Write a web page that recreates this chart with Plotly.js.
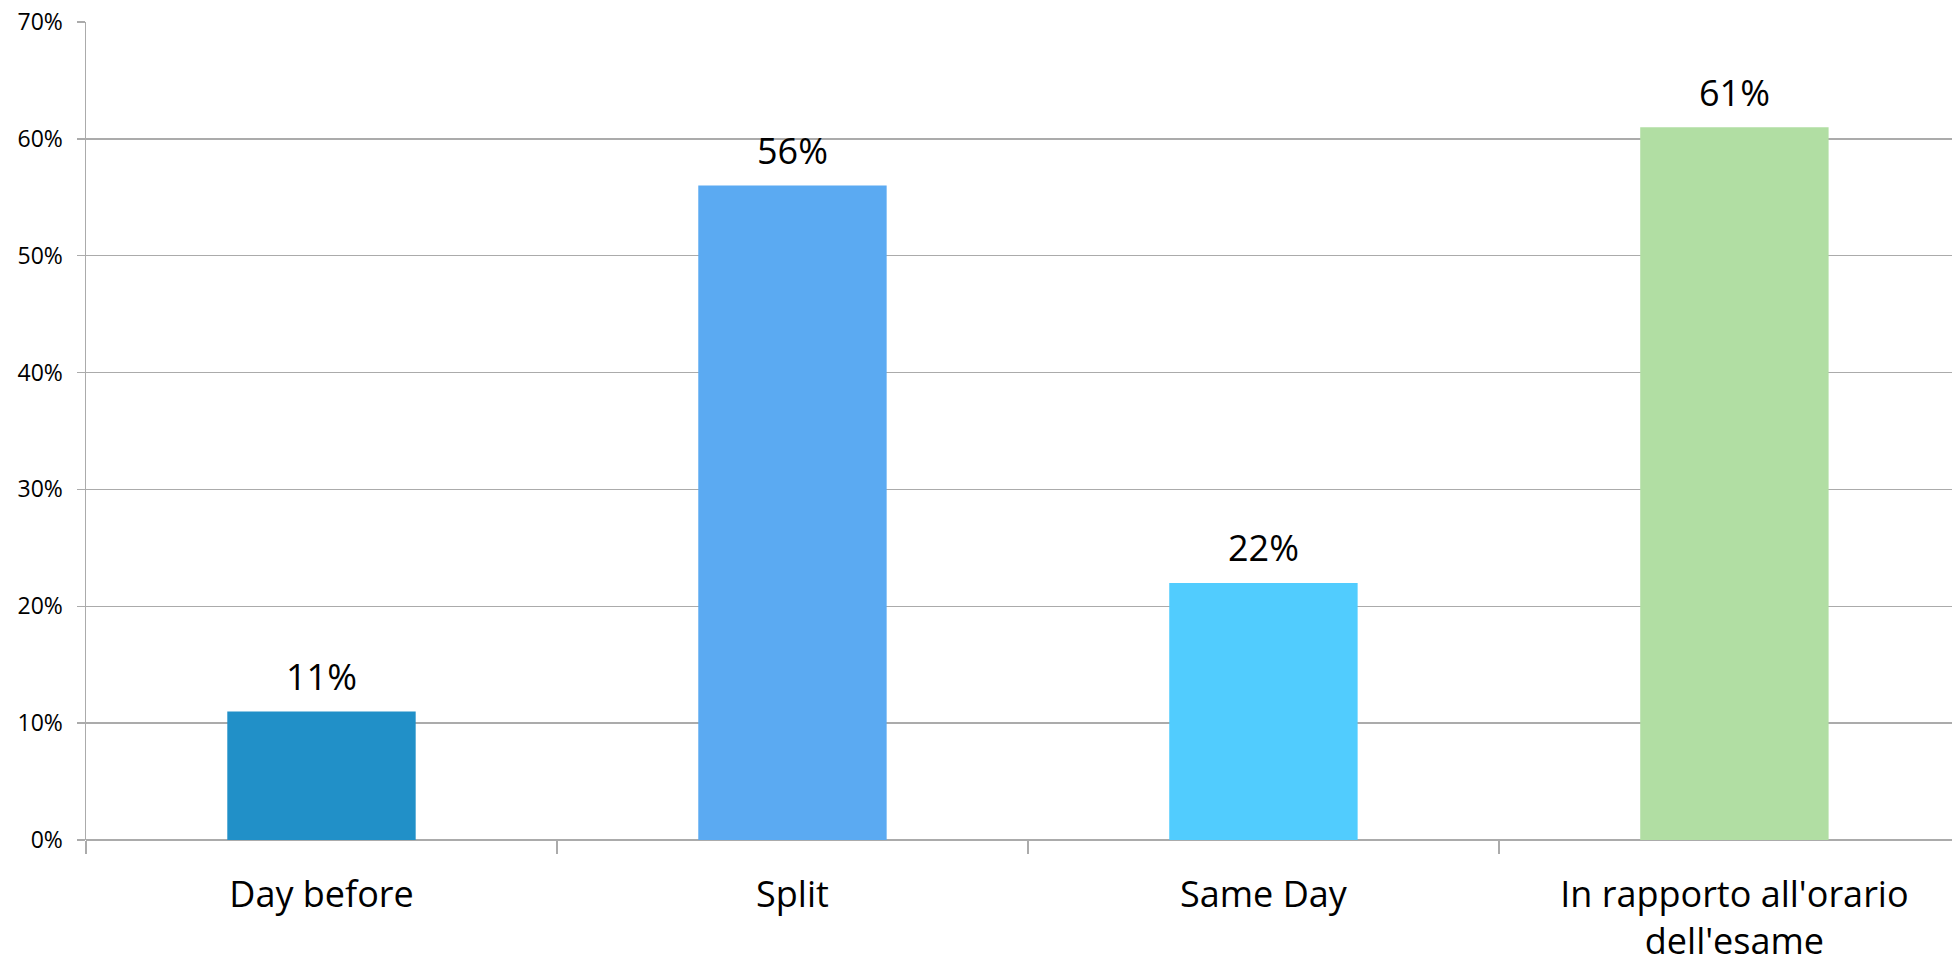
<!DOCTYPE html>
<html>
<head>
<meta charset="utf-8">
<script src="https://cdn.plot.ly/plotly-3.0.1.min.js"></script>
<style>
  html, body { margin: 0; padding: 0; background: #ffffff; overflow: hidden; }
  #chart { width: 1952px; height: 965px; }
</style>
</head>
<body>
<div id="chart"></div>
<script>
// Share of responses per exam-timing option
const categories = ["Day before", "Split", "Same Day", "In rapporto all'orario<br>dell'esame"];
const shares = [0.11, 0.56, 0.22, 0.61];
const barColors = ["#2190C8", "#5BAAF2", "#51CCFE", "#B1DEA3"];
const yTickValues = [0, 0.1, 0.2, 0.3, 0.4, 0.5, 0.6, 0.7];
const yTickLabels = ["0%", "10%", "20%", "30%", "40%", "50%", "60%", "70%"];

const labelFont = "'Open Sans', 'Noto Sans', sans-serif";
const axisGray = "#ABABAB";

const trace = {
  type: "bar",
  x: categories,
  y: shares,
  marker: { color: barColors, line: { width: 0 } },
  hoverinfo: "skip"
};

// Value labels above each bar, taken from the same values
const valueLabels = categories.map((c, i) => ({
  x: c,
  y: shares[i],
  xref: "x",
  yref: "y",
  text: Math.round(shares[i] * 100) + "%",
  showarrow: false,
  yanchor: "middle",
  yshift: 35,
  font: { family: labelFont, size: 36, color: "#000000" }
}));

const layout = {
  width: 1952,
  height: 965,
  margin: { l: 86, r: 0, t: 22, b: 125 },
  paper_bgcolor: "#ffffff",
  plot_bgcolor: "#ffffff",
  showlegend: false,
  bargap: 0.6,
  xaxis: {
    type: "category",
    range: [-0.5, 3.462],
    tickson: "boundaries",
    ticks: "outside",
    ticklen: 13,
    tickwidth: 1.5,
    tickcolor: axisGray,
    showline: false,
    showgrid: false,
    zeroline: false,
    tickfont: { family: labelFont, size: 36, color: "#000000" },
    ticklabelstandoff: 30
  },
  yaxis: {
    range: [0, 0.7],
    tickvals: yTickValues,
    ticktext: yTickLabels,
    ticks: "outside",
    ticklen: 8,
    tickwidth: 1.5,
    tickcolor: axisGray,
    showline: true,
    linecolor: axisGray,
    linewidth: 1.5,
    showgrid: true,
    gridcolor: axisGray,
    gridwidth: 1.5,
    zeroline: true,
    zerolinecolor: axisGray,
    zerolinewidth: 1.5,
    tickfont: { family: labelFont, size: 23, color: "#000000" },
    ticklabelstandoff: 9
  },
  annotations: valueLabels
};

Plotly.newPlot("chart", [trace], layout, { displayModeBar: false, staticPlot: true });
</script>
</body>
</html>
